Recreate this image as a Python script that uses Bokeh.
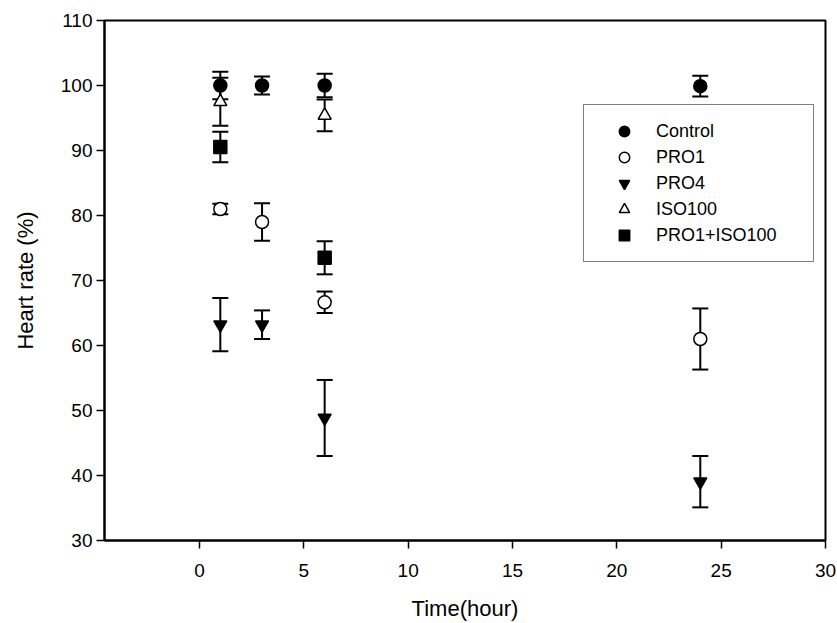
from bokeh.plotting import figure
from bokeh.models import (ColumnDataSource, Whisker, TeeHead, FixedTicker,
                          Legend, LegendItem, Range1d)
from bokeh.embed import file_html
from bokeh.resources import INLINE

# ---- data ----
time_h = [1, 3, 6, 24]
control_mean = [100.0, 100.0, 100.0, 99.9]
control_se = [2.1, 1.4, 1.8, 1.6]
pro1_mean = [81.0, 79.0, 66.65, 61.0]
pro1_se = [0.8, 2.9, 1.65, 4.7]
pro4_mean = [63.2, 63.2, 48.85, 39.05]
pro4_se = [4.1, 2.2, 5.85, 3.95]
iso_time = [1, 6]
iso100_mean = [97.5, 95.4]
iso100_se = [3.7, 2.45]
combo_time = [1, 6]
combo_mean = [90.55, 73.5]
combo_se = [2.35, 2.55]

x_ticks = [0, 5, 10, 15, 20, 25, 30]
y_ticks = [30, 40, 50, 60, 70, 80, 90, 100, 110]

FONT = "Liberation Sans"

p = figure(frame_width=721, frame_height=520,
           x_range=Range1d(-4.55, 30), y_range=Range1d(30, 110),
           output_backend="svg", toolbar_location=None,
           min_border_left=104, min_border_right=12,
           min_border_top=20, min_border_bottom=70)
p.xgrid.visible = False
p.ygrid.visible = False
p.outline_line_color = "black"
p.outline_line_width = 2
p.background_fill_color = "white"
p.border_fill_color = "white"

for ax in (p.xaxis, p.yaxis):
    ax.axis_line_width = 2
    ax.axis_line_color = "black"
    ax.major_tick_out = 8
    ax.major_tick_in = 0
    ax.major_tick_line_width = 1.5
    ax.major_tick_line_color = "black"
    ax.minor_tick_line_color = None
    ax.major_label_text_font = FONT
    ax.major_label_text_font_size = "19px"
    ax.major_label_text_color = "black"
    ax.axis_label_text_font = FONT
    ax.axis_label_text_font_size = "22px"
    ax.axis_label_text_font_style = "normal"
    ax.axis_label_text_color = "black"

p.xaxis.ticker = FixedTicker(ticks=x_ticks)
p.yaxis.ticker = FixedTicker(ticks=y_ticks)
p.xaxis.major_label_standoff = 15
p.yaxis.major_label_standoff = 4
p.xaxis.axis_label_standoff = 16
p.yaxis.axis_label_standoff = 20
p.xaxis.axis_label = "Time(hour)"
p.yaxis.axis_label = "Heart rate (%)"


def add_series(x, m, se, marker, fill):
    src = ColumnDataSource(dict(
        x=x, y=m,
        upper=[a + b for a, b in zip(m, se)],
        lower=[a - b for a, b in zip(m, se)]))
    w = Whisker(source=src, base="x", upper="upper", lower="lower",
                dimension="height", line_width=2, line_color="black",
                upper_head=TeeHead(size=16, line_width=2, line_color="black"),
                lower_head=TeeHead(size=16, line_width=2, line_color="black"),
                level="underlay")
    p.add_layout(w)
    return p.scatter("x", "y", source=src, marker=marker, size=13,
                     fill_color=fill, line_color="black", line_width=1.5)


r_iso = add_series(iso_time, iso100_mean, iso100_se, "triangle", "white")
r_combo = add_series(combo_time, combo_mean, combo_se, "square", "black")
r_pro4 = add_series(time_h, pro4_mean, pro4_se, "inverted_triangle", "black")
r_pro1 = add_series(time_h, pro1_mean, pro1_se, "circle", "white")
r_ctrl = add_series(time_h, control_mean, control_se, "circle", "black")

legend = Legend(items=[
    LegendItem(label="Control", renderers=[r_ctrl]),
    LegendItem(label="PRO1", renderers=[r_pro1]),
    LegendItem(label="PRO4", renderers=[r_pro4]),
    LegendItem(label="ISO100", renderers=[r_iso]),
    LegendItem(label="PRO1+ISO100", renderers=[r_combo]),
], location=(479, 278), margin=0, padding=13, spacing=0,
    glyph_width=54, glyph_height=26, label_height=26, label_width=144,
    label_standoff=5, border_line_color="black", border_line_width=1.5,
    background_fill_color="white", background_fill_alpha=1.0,
    label_text_font=FONT, label_text_font_size="18px",
    label_text_color="black")
p.add_layout(legend)

open("out.html", "w").write(file_html(p, INLINE))
